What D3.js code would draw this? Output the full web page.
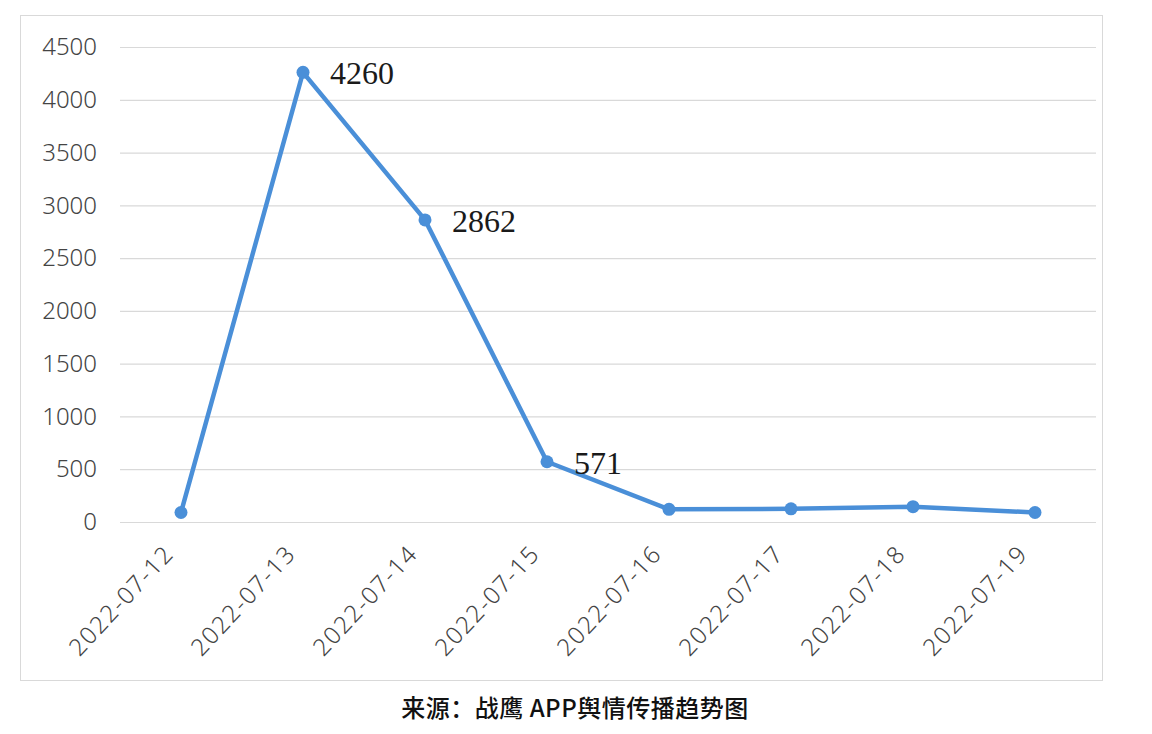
<!DOCTYPE html>
<html>
<head>
<meta charset="utf-8">
<script src="https://cdn.jsdelivr.net/npm/d3@7/dist/d3.min.js"></script>
<style>
  body { margin: 0; background: #fff; }
  svg { display: block; }
</style>
</head>
<body>
<div id="chart"></div>
<script>
// data
var dates = ["2022-07-12", "2022-07-13", "2022-07-14", "2022-07-15",
             "2022-07-16", "2022-07-17", "2022-07-18", "2022-07-19"];
var counts = [90, 4260, 2862, 571, 120, 125, 145, 90];
var labelled = ["2022-07-13", "2022-07-14", "2022-07-15"];
var yTicks = [0, 500, 1000, 1500, 2000, 2500, 3000, 3500, 4000, 4500];
var caption = "来源：战鹰 APP舆情传播趋势图";

var W = 1152, H = 734;
var margin = {top: 47, right: 56, bottom: 212, left: 120},
    width = W - margin.left - margin.right,
    height = H - margin.top - margin.bottom;

var svg = d3.select("#chart")
    .append("svg")
    .attr("width", W)
    .attr("height", H);

// outer frame
svg.append("rect")
    .attr("x", 20.5).attr("y", 15.5)
    .attr("width", 1082).attr("height", 665)
    .attr("fill", "#fff")
    .attr("stroke", "#d9d9d9");

var g = svg.append("g")
    .attr("transform", "translate(" + margin.left + "," + margin.top + ")");

var x = d3.scaleBand()
    .domain(dates)
    .range([0, width]);

var y = d3.scaleLinear()
    .domain([0, 4500])
    .range([height, 0]);

// grid + y labels
var yAxis = g.append("g")
    .call(d3.axisLeft(y).tickValues(yTicks).tickFormat(d3.format("d"))
        .tickSize(-width).tickPadding(23))
yAxis.select(".domain").remove();
yAxis.selectAll(".tick line").attr("stroke", "#d9d9d9").attr("stroke-width", 1.2);
yAxis.selectAll(".tick text")
    .attr("fill", "#444")
    .style("font-family", "'Noto Sans', sans-serif")
    .style("font-weight", 300)
    .style("font-size", "24px");

// x labels, rotated
var xAxis = g.append("g")
    .attr("transform", "translate(0," + height + ")")
    .call(d3.axisBottom(x).tickSize(0).tickPadding(0));
xAxis.select(".domain").remove();
xAxis.selectAll(".tick text")
    .attr("fill", "#444")
    .attr("text-anchor", "end")
    .attr("dy", 0)
    .attr("transform", "translate(-6,33) rotate(-47)")
    .style("letter-spacing", "1.5px")
    .style("font-family", "'Noto Sans', sans-serif")
    .style("font-weight", 300)
    .style("font-size", "24px");

var cx = function(d) { return x(d) + x.bandwidth() / 2; };

var line = d3.line()
    .x(function(d, i) { return cx(dates[i]); })
    .y(function(d) { return y(d); });

g.append("path")
    .datum(counts)
    .attr("fill", "none")
    .attr("stroke", "#4a8fd8")
    .attr("stroke-width", 4.5)
    .attr("stroke-linejoin", "round")
    .attr("d", line);

g.selectAll(".dot")
    .data(counts)
    .enter()
    .append("circle")
    .attr("class", "dot")
    .attr("cx", function(d, i) { return cx(dates[i]); })
    .attr("cy", function(d) { return y(d); })
    .attr("r", 6.5)
    .attr("fill", "#4a8fd8");

// value labels
g.selectAll(".lbl")
    .data(dates.filter(function(d) { return labelled.indexOf(d) >= 0; }))
    .enter()
    .append("text")
    .attr("class", "lbl")
    .attr("x", function(d) { return cx(d) + 27; })
    .attr("y", function(d) { return y(counts[dates.indexOf(d)]) + 12; })
    .attr("fill", "#1a1a1a")
    .style("font-family", "'Liberation Serif', serif")
    .style("font-size", "32px")
    .text(function(d) { return counts[dates.indexOf(d)]; });

svg.append("text")
    .attr("x", 575)
    .attr("y", 717)
    .attr("text-anchor", "middle")
    .attr("fill", "#111")
    .style("font-family", "'Noto Sans CJK SC', sans-serif")
    .style("font-weight", 500)
    .style("font-size", "24px")
    .style("letter-spacing", "0.5px")
    .text(caption);
</script>
</body>
</html>
